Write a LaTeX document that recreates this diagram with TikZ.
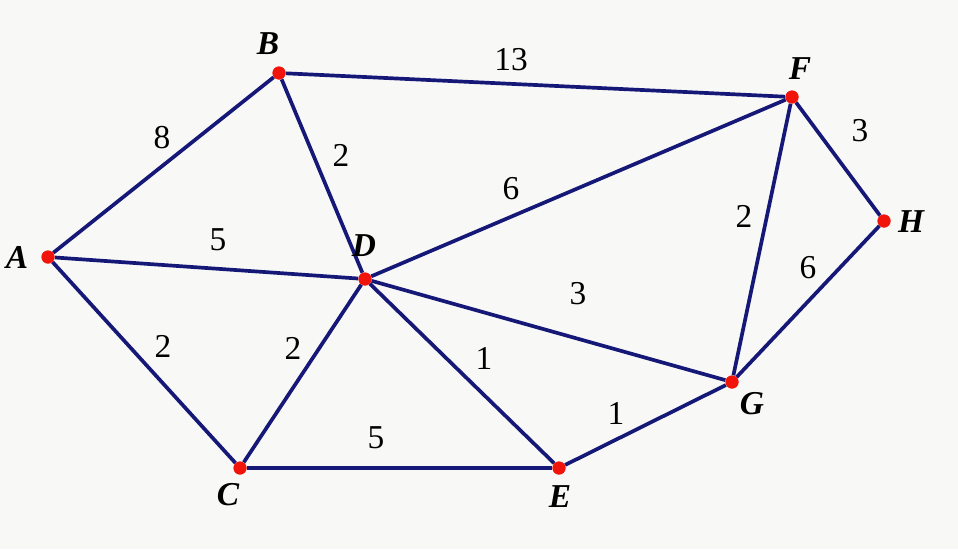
\documentclass[tikz,border=0pt]{standalone}
\usepackage{fontspec}
\setmainfont{Liberation Serif}
\usepackage{tikz}
\usetikzlibrary{calc}
\definecolor{edgeblue}{RGB}{22,24,120}
\definecolor{dotred}{RGB}{240,20,10}
\definecolor{paper}{RGB}{248,248,246}

\begin{document}
\begin{tikzpicture}[x=0.2mm, y=-0.2mm,
  vertex/.style={circle, fill=dotred, inner sep=0pt, minimum size=2.6mm},
  lbl/.style={font=\fontsize{19}{21}\selectfont\bfseries\itshape},
  wt/.style={font=\fontsize{19}{21}\selectfont},
  edge/.style={edgeblue, line width=2.1pt}]

\fill[paper] (0,0) rectangle (958,549);
\useasboundingbox (0,0) rectangle (958,549);

% vertices
\node[vertex] (A) at (48,257) {};
\node[vertex] (B) at (279,73) {};
\node[vertex] (F) at (792,97) {};
\node[vertex] (H) at (884,221) {};
\node[vertex] (D) at (365,279) {};
\node[vertex] (G) at (732,382) {};
\node[vertex] (C) at (240,468) {};
\node[vertex] (E) at (559,468) {};

% edges
\draw[edge] (A) -- (B);
\draw[edge] (B) -- (F);
\draw[edge] (B) -- (D);
\draw[edge] (A) -- (D);
\draw[edge] (D) -- (F);
\draw[edge] (F) -- (H);
\draw[edge] (F) -- (G);
\draw[edge] (G) -- (H);
\draw[edge] (D) -- (G);
\draw[edge] (A) -- (C);
\draw[edge] (C) -- (D);
\draw[edge] (D) -- (E);
\draw[edge] (E) -- (G);
\draw[edge] (C) -- (E);

% redraw dots on top
\foreach \v in {A,B,C,D,E,F,G,H}
  \fill[dotred] (\v) circle (1.3mm);

% vertex names
\node[lbl] (lA) at (17,257) {A};
\node[lbl] (lB) at (268,44) {B};
\node[lbl] (lF) at (800,69) {F};
\node[lbl] (lH) at (911,222) {H};
\node[lbl] (lD) at (364,246) {D};
\node[lbl] (lG) at (752,404) {G};
\node[lbl] (lC) at (228,495) {C};
\node[lbl] (lE) at (560,497) {E};

% weights
\node[wt] (wAB) at (162,138) {8};
\node[wt] (wBF) at (511,60) {13};
\node[wt] (wBD) at (341,155) {2};
\node[wt] (wAD) at (218,240) {5};
\node[wt] (wDF) at (511,189) {6};
\node[wt] (wFH) at (860,131) {3};
\node[wt] (wFG) at (744,216) {2};
\node[wt] (wGH) at (808,268) {6};
\node[wt] (wDG) at (578,294) {3};
\node[wt] (wAC) at (163,346) {2};
\node[wt] (wCD) at (293,348) {2};
\node[wt] (wDE) at (484,358) {1};
\node[wt] (wEG) at (616,413) {1};
\node[wt] (wCE) at (376,438) {5};

\end{tikzpicture}
\end{document}
